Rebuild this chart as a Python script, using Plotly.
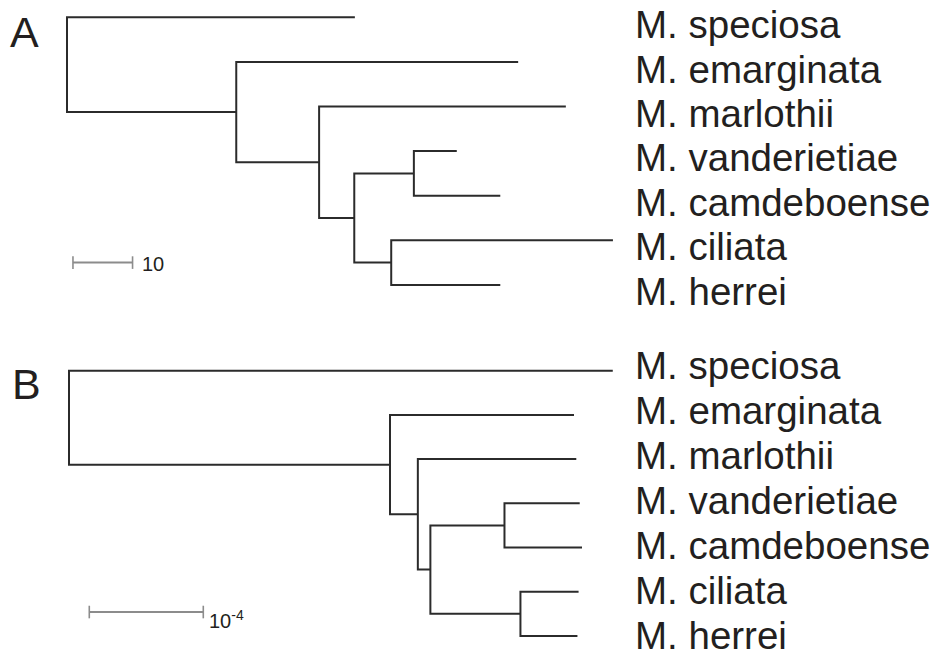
import plotly.graph_objects as go

# ---------------- data ----------------
leaves = ["M. speciosa", "M. emarginata", "M. marlothii", "M. vanderietiae",
          "M. camdeboense", "M. ciliata", "M. herrei"]
node_names = ["root", "n1", "n2", "n3", "n4", "n5"]
node_children = [["M. speciosa", "n1"], ["M. emarginata", "n2"], ["M. marlothii", "n3"],
                 ["n4", "n5"], ["M. vanderietiae", "M. camdeboense"], ["M. ciliata", "M. herrei"]]

# cumulative distance from the root, tree A
leaf_depth_A = [48.3, 75.7, 83.7, 65.4, 72.7, 91.6, 72.7]
node_depth_A = [0.0, 28.4, 42.3, 48.2, 58.2, 54.4]
# cumulative distance from the root, tree B
leaf_depth_B = [4.77e-4, 4.43e-4, 4.45e-4, 4.48e-4, 4.50e-4, 4.47e-4, 4.46e-4]
node_depth_B = [0.0, 2.816e-4, 3.06e-4, 3.17e-4, 3.82e-4, 3.96e-4]

scale_len_A = 10
scale_label_A = "10"
scale_len_B = 1e-4
scale_label_B = "10<sup>-4</sup>"
panel_labels = ["A", "B"]

# ---------------- layout constants (pixels) ----------------
W, H = 943, 652
FONT = "Liberation Sans, Arial, Helvetica, sans-serif"
INK = "#231f20"
LINE = "#2b2b2b"
GREY = "#8c8c8c"


def tree_paths(leaf_depth, node_depth):
    depth = dict(zip(leaves, leaf_depth))
    depth.update(zip(node_names, node_depth))
    ypos = {name: i for i, name in enumerate(leaves)}
    for name, ch in reversed(list(zip(node_names, node_children))):
        ypos[name] = (ypos[ch[0]] + ypos[ch[1]]) / 2
    xs, ys = [], []
    for name, ch in zip(node_names, node_children):
        x0 = depth[name]
        c0, c1 = ch
        xs += [depth[c0], x0, x0, depth[c1], None]
        ys += [ypos[c0], ypos[c0], ypos[c1], ypos[c1], None]
    return xs, ys


def xrange_for(root_px, px_per_unit):
    return [-root_px / px_per_unit, (W - root_px) / px_per_unit]


def ydomain_for(top_leaf_px, spacing_px, pad=0.3):
    n = len(leaves) - 1
    top = top_leaf_px - pad * spacing_px
    bottom = top_leaf_px + (n + pad) * spacing_px
    return [1 - bottom / H, 1 - top / H], [n + pad, -pad]


panels = [
    dict(leaf=leaf_depth_A, node=node_depth_A, root_px=67, ppu=59.6 / scale_len_A,
         top=17.3, sp=44.6, sbar0=1.0 * scale_len_A / 10, slen=scale_len_A, sy=5.5,
         slabel=scale_label_A, lab_top=24.7, lab_sp=44.4, sl_xshift=7, sl_yshift=-1,
         plabel_x=8, plabel_y=31.5),
    dict(leaf=leaf_depth_B, node=node_depth_B, root_px=69, ppu=114 / scale_len_B,
         top=370.7, sp=44.2, sbar0=0.178 * scale_len_B, slen=scale_len_B, sy=5.46,
         slabel=scale_label_B, lab_top=365.0, lab_sp=45.1, sl_xshift=4, sl_yshift=-7,
         plabel_x=10, plabel_y=384),
]

fig = go.Figure()
annotations = []
for k, p in enumerate(panels):
    xa = "x" if k == 0 else "x2"
    ya = "y" if k == 0 else "y2"
    xs, ys = tree_paths(p["leaf"], p["node"])
    fig.add_trace(go.Scatter(x=xs, y=ys, mode="lines", xaxis=xa, yaxis=ya,
                             line=dict(color=LINE, width=2), hoverinfo="skip",
                             showlegend=False, cliponaxis=False))
    # scale bar
    sx = [p["sbar0"], p["sbar0"] + p["slen"]]
    fig.add_trace(go.Scatter(x=sx, y=[p["sy"], p["sy"]], mode="lines+markers",
                             xaxis=xa, yaxis=ya,
                             line=dict(color=GREY, width=2),
                             marker=dict(symbol="line-ns", size=9,
                                         line=dict(color=GREY, width=1.6)),
                             hoverinfo="skip", showlegend=False, cliponaxis=False))
    annotations.append(dict(x=sx[1], y=p["sy"], xref=xa, yref=ya, text=p["slabel"],
                            showarrow=False, xanchor="left", yanchor="middle",
                            xshift=p["sl_xshift"], yshift=p["sl_yshift"],
                            font=dict(family=FONT, size=20, color=INK)))
    # tip labels
    for i, name in enumerate(leaves):
        ypx = p["lab_top"] + i * p["lab_sp"]
        annotations.append(dict(x=633 / W, y=1 - ypx / H, xref="paper", yref="paper",
                                text=name, showarrow=False, xanchor="left",
                                yanchor="middle",
                                font=dict(family=FONT, size=38.5, color=INK)))
    # panel letter
    annotations.append(dict(x=p["plabel_x"] / W, y=1 - p["plabel_y"] / H,
                            xref="paper", yref="paper", text=panel_labels[k],
                            showarrow=False, xanchor="left", yanchor="middle",
                            font=dict(family=FONT, size=43, color=INK)))

dA, rA = ydomain_for(panels[0]["top"], panels[0]["sp"])
dB, rB = ydomain_for(panels[1]["top"], panels[1]["sp"])
axis_off = dict(visible=False, showgrid=False, zeroline=False, fixedrange=True)

fig.update_layout(
    width=W, height=H, autosize=False,
    margin=dict(l=0, r=0, t=0, b=0, pad=0),
    paper_bgcolor="white", plot_bgcolor="white",
    xaxis=dict(domain=[0, 1], range=xrange_for(panels[0]["root_px"], panels[0]["ppu"]),
               anchor="y", **axis_off),
    yaxis=dict(domain=dA, range=rA, anchor="x", **axis_off),
    xaxis2=dict(domain=[0, 1], range=xrange_for(panels[1]["root_px"], panels[1]["ppu"]),
                anchor="y2", **axis_off),
    yaxis2=dict(domain=dB, range=rB, anchor="x2", **axis_off),
    annotations=annotations,
)

fig.write_html("out.html")
